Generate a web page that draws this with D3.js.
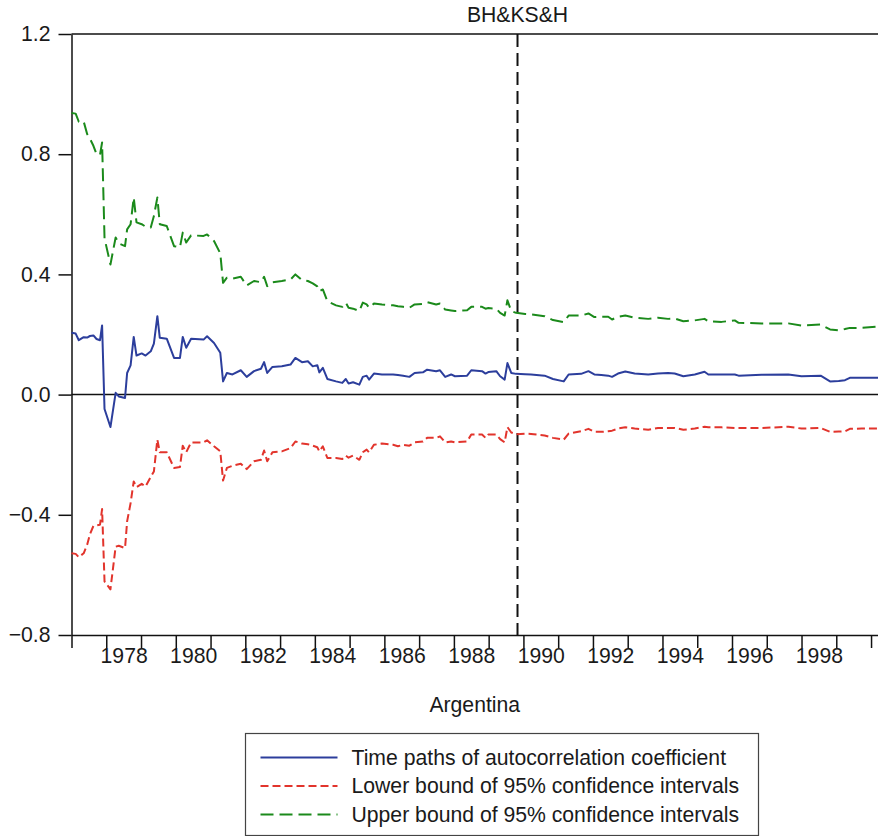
<!DOCTYPE html>
<html>
<head>
<meta charset="utf-8">
<script src="https://cdn.jsdelivr.net/npm/d3@7"></script>
<style>
  html, body { margin: 0; padding: 0; background: #fff; }
  svg { display: block; }
  text { font-family: "Liberation Sans", Arial, Helvetica, sans-serif; fill: #1a1a1a; }
</style>
</head>
<body>
<svg id="chart" width="878" height="836"></svg>
<script>
// Observation dates (decimal years), Argentina
const dates = [
  1977.00, 1977.12, 1977.21, 1977.35, 1977.45, 1977.53, 1977.63, 1977.72, 1977.82, 1977.88,
  1977.95, 1978.12, 1978.27, 1978.36, 1978.54, 1978.60, 1978.70, 1978.79, 1978.87, 1979.02,
  1979.13, 1979.28, 1979.37, 1979.47, 1979.54, 1979.74, 1979.95, 1980.12, 1980.20, 1980.30,
  1980.44, 1980.80, 1980.90, 1981.10, 1981.28, 1981.36, 1981.47, 1981.63, 1981.87, 1982.04,
  1982.25, 1982.45, 1982.54, 1982.63, 1982.78, 1983.05, 1983.30, 1983.44, 1983.63, 1983.80,
  1983.94, 1984.07, 1984.13, 1984.23, 1984.36, 1984.61, 1984.79, 1984.89, 1984.97, 1985.10,
  1985.28, 1985.38, 1985.49, 1985.56, 1985.70, 1985.93, 1986.25, 1986.39, 1986.54, 1986.72,
  1986.87, 1987.11, 1987.23, 1987.49, 1987.60, 1987.75, 1987.92, 1988.03, 1988.38, 1988.50,
  1988.81, 1988.91, 1988.99, 1989.22, 1989.33, 1989.46, 1989.54, 1989.65, 1989.79, 1990.05,
  1990.22, 1990.61, 1990.85, 1991.16, 1991.30, 1991.66, 1991.87, 1992.04, 1992.24, 1992.44,
  1992.55, 1992.72, 1992.93, 1993.20, 1993.59, 1993.87, 1994.16, 1994.35, 1994.60, 1994.93,
  1995.21, 1995.32, 1995.70, 1996.08, 1996.19, 1996.85, 1997.62, 1998.00, 1998.55, 1998.82,
  1999.07, 1999.25, 1999.39, 1999.73, 2000.20
];

// Time path of the autocorrelation coefficient
const coef = [
  0.206, 0.203, 0.181, 0.191, 0.190, 0.195, 0.197, 0.185, 0.181, 0.230,
  -0.048, -0.108, 0.006, -0.006, -0.011, 0.072, 0.097, 0.192, 0.130, 0.137,
  0.130, 0.144, 0.170, 0.261, 0.189, 0.186, 0.122, 0.122, 0.192, 0.156,
  0.186, 0.183, 0.194, 0.172, 0.139, 0.044, 0.072, 0.067, 0.081, 0.059,
  0.078, 0.086, 0.108, 0.072, 0.092, 0.094, 0.100, 0.122, 0.108, 0.111,
  0.094, 0.098, 0.074, 0.089, 0.052, 0.044, 0.039, 0.052, 0.037, 0.041,
  0.033, 0.059, 0.063, 0.050, 0.070, 0.067, 0.067, 0.065, 0.063, 0.059,
  0.072, 0.074, 0.083, 0.078, 0.081, 0.059, 0.067, 0.061, 0.063, 0.081,
  0.078, 0.070, 0.075, 0.078, 0.061, 0.050, 0.105, 0.072, 0.069, 0.068,
  0.067, 0.063, 0.052, 0.044, 0.067, 0.069, 0.078, 0.067, 0.065, 0.063,
  0.059, 0.070, 0.077, 0.070, 0.067, 0.070, 0.072, 0.070, 0.061, 0.067,
  0.076, 0.067, 0.067, 0.067, 0.063, 0.066, 0.067, 0.061, 0.063, 0.044,
  0.045, 0.048, 0.056, 0.056, 0.056
];

// Lower bound of the 95% confidence interval
const lower = [
  -0.528, -0.530, -0.541, -0.528, -0.500, -0.465, -0.437, -0.435, -0.433, -0.381,
  -0.622, -0.648, -0.506, -0.503, -0.511, -0.422, -0.361, -0.289, -0.308, -0.297,
  -0.306, -0.274, -0.256, -0.150, -0.192, -0.192, -0.244, -0.241, -0.170, -0.192,
  -0.159, -0.159, -0.152, -0.172, -0.189, -0.286, -0.244, -0.237, -0.230, -0.248,
  -0.222, -0.217, -0.186, -0.222, -0.192, -0.189, -0.178, -0.156, -0.163, -0.165,
  -0.170, -0.175, -0.189, -0.172, -0.211, -0.211, -0.214, -0.203, -0.210, -0.203,
  -0.217, -0.192, -0.183, -0.192, -0.167, -0.163, -0.167, -0.172, -0.167, -0.170,
  -0.159, -0.156, -0.144, -0.144, -0.139, -0.159, -0.156, -0.159, -0.156, -0.133,
  -0.133, -0.144, -0.133, -0.133, -0.148, -0.159, -0.108, -0.126, -0.132, -0.130,
  -0.131, -0.136, -0.144, -0.150, -0.130, -0.122, -0.114, -0.124, -0.124, -0.122,
  -0.120, -0.113, -0.109, -0.113, -0.117, -0.111, -0.111, -0.111, -0.117, -0.113,
  -0.107, -0.109, -0.109, -0.111, -0.111, -0.111, -0.107, -0.113, -0.111, -0.124,
  -0.123, -0.122, -0.114, -0.113, -0.113
];

// Upper bound of the 95% confidence interval
const upper = [
  0.937, 0.935, 0.908, 0.909, 0.867, 0.852, 0.828, 0.800, 0.798, 0.839,
  0.520, 0.433, 0.523, 0.503, 0.494, 0.550, 0.567, 0.656, 0.573, 0.567,
  0.559, 0.556, 0.594, 0.656, 0.567, 0.561, 0.494, 0.490, 0.539, 0.506,
  0.530, 0.528, 0.533, 0.511, 0.470, 0.372, 0.389, 0.386, 0.392, 0.363,
  0.378, 0.374, 0.392, 0.361, 0.374, 0.378, 0.383, 0.400, 0.381, 0.378,
  0.370, 0.360, 0.344, 0.350, 0.311, 0.297, 0.292, 0.306, 0.289, 0.286,
  0.278, 0.306, 0.300, 0.289, 0.303, 0.300, 0.297, 0.294, 0.292, 0.289,
  0.300, 0.302, 0.308, 0.300, 0.303, 0.283, 0.280, 0.278, 0.281, 0.292,
  0.292, 0.286, 0.288, 0.286, 0.272, 0.263, 0.314, 0.278, 0.272, 0.268,
  0.267, 0.261, 0.248, 0.241, 0.263, 0.263, 0.270, 0.258, 0.259, 0.259,
  0.250, 0.259, 0.263, 0.256, 0.252, 0.256, 0.252, 0.253, 0.244, 0.247,
  0.252, 0.244, 0.242, 0.247, 0.239, 0.237, 0.237, 0.230, 0.233, 0.217,
  0.214, 0.218, 0.222, 0.222, 0.226
];

// Axis ticks and labels
const yTicks = [-0.8, -0.4, 0.0, 0.4, 0.8, 1.2];
const yearTicks = d3.range(1977, 2001);
const yearLabels = [1978, 1980, 1982, 1984, 1986, 1988, 1990, 1992, 1994, 1996, 1998];
const breakDate = 1989.83;
const breakLabel = "BH&KS&H";
const xTitle = "Argentina";
const seriesNames = [
  "Time paths of autocorrelation coefficient",
  "Lower bound of 95% confidence intervals",
  "Upper bound of 95% confidence intervals"
];

const FONT = "21.2px";

const svg = d3.select("#chart");
svg.append("rect").attr("width", 878).attr("height", 836).attr("fill", "#fff");

const x = d3.scaleLinear().domain([1977, 2000.2]).range([71.5, 878]);
const y = d3.scaleLinear().domain([-0.8, 1.2]).range([635, 34]);

const series = [
  { name: seriesNames[0], values: coef,  color: "#2c3e9c", dash: null },
  { name: seriesNames[1], values: lower, color: "#e2342c", dash: "8,4" },
  { name: seriesNames[2], values: upper, color: "#1b8a1b", dash: "13,6" }
];

// Frame: top edge
svg.append("line")
  .attr("x1", x(1977)).attr("x2", 878)
  .attr("y1", y(1.2)).attr("y2", y(1.2))
  .attr("stroke", "#111").attr("stroke-width", 1.5);

// Zero line
svg.append("line")
  .attr("x1", x(1977)).attr("x2", 878)
  .attr("y1", y(0)).attr("y2", y(0))
  .attr("stroke", "#111").attr("stroke-width", 1.5);

// Y axis
const fmt = v => (v < 0 ? "\u2212" : "") + Math.abs(v).toFixed(1);
const yAxis = svg.append("g")
  .attr("transform", `translate(${x(1977)},0)`)
  .call(d3.axisLeft(y).tickValues(yTicks).tickSize(13).tickSizeOuter(0).tickPadding(8).tickFormat(fmt));
yAxis.selectAll("text").style("font-size", FONT).attr("fill", "#1a1a1a");
yAxis.selectAll("line, path").attr("stroke", "#111").attr("stroke-width", 1.5);

// X axis: year boundary ticks
const xAxis = svg.append("g")
  .attr("transform", `translate(0,${y(-0.8)})`)
  .call(d3.axisBottom(x).tickValues(yearTicks).tickSize(13).tickSizeOuter(0).tickFormat(""));
xAxis.selectAll("line, path").attr("stroke", "#111").attr("stroke-width", 1.5);

// X axis: labels centred within each labelled year
const xLabels = svg.append("g")
  .attr("transform", `translate(0,${y(-0.8)})`)
  .call(d3.axisBottom(x).tickValues(yearLabels.map(d => d + 0.5)).tickSize(0).tickPadding(13)
    .tickFormat(d => String(Math.floor(d))));
xLabels.select(".domain").remove();
xLabels.selectAll("text").style("font-size", FONT).attr("fill", "#1a1a1a");

svg.append("text")
  .attr("x", (x(1977) + 878) / 2).attr("y", 712)
  .attr("text-anchor", "middle").style("font-size", FONT)
  .text(xTitle);

// Structural break marker
svg.append("line")
  .attr("x1", x(breakDate)).attr("x2", x(breakDate))
  .attr("y1", y(1.2)).attr("y2", y(-0.8))
  .attr("stroke", "#111").attr("stroke-width", 2)
  .attr("stroke-dasharray", "13,6");
svg.append("text")
  .attr("x", x(breakDate)).attr("y", 22)
  .attr("text-anchor", "middle").style("font-size", FONT)
  .text(breakLabel);

// Series lines
const line = d3.line().x((d, i) => x(dates[i])).y(d => y(d));
series.forEach(s => {
  svg.append("path")
    .datum(s.values)
    .attr("d", line)
    .attr("fill", "none")
    .attr("stroke", s.color)
    .attr("stroke-width", 2)
    .attr("stroke-linejoin", "round")
    .attr("stroke-dasharray", s.dash);
});

// Legend
const lg = svg.append("g").attr("transform", "translate(245.5,733.5)");
lg.append("rect").attr("width", 513).attr("height", 102)
  .attr("fill", "#fff").attr("stroke", "#444").attr("stroke-width", 1.2);
series.forEach((s, i) => {
  const cy = 24 + i * 28.5;
  lg.append("line")
    .attr("x1", 15).attr("x2", 92).attr("y1", cy).attr("y2", cy)
    .attr("stroke", s.color).attr("stroke-width", 2)
    .attr("stroke-dasharray", s.dash);
  lg.append("text")
    .attr("x", 106).attr("y", cy).attr("dy", "0.35em")
    .style("font-size", FONT)
    .text(s.name);
});
</script>
</body>
</html>
